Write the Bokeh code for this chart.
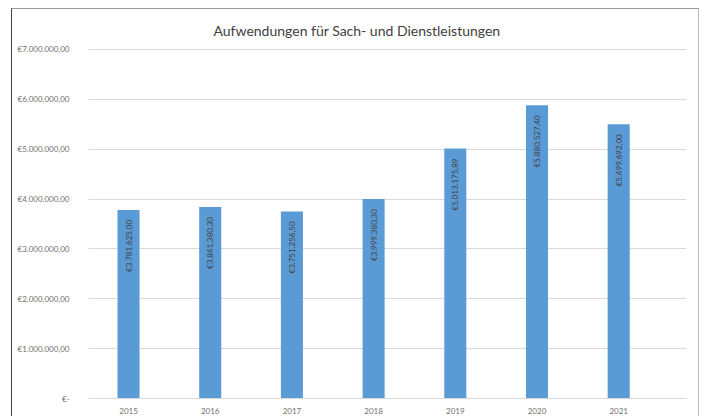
from bokeh.plotting import figure
from bokeh.models import Range1d, FixedTicker, ColumnDataSource, LabelSet
from bokeh.core.properties import value
from bokeh.embed import file_html
from bokeh.resources import INLINE

years = [2015, 2016, 2017, 2018, 2019, 2020, 2021]
values = [3781625.00, 3841380.30, 3751256.50, 3999380.30, 5013175.89, 5880527.40, 5499692.00]
value_labels = ["€3.781.625,00", "€3.841.380,30", "€3.751.256,50", "€3.999.380,30",
                "€5.013.175,89", "€5.880.527,40", "€5.499.692,00"]
y_ticks = [0, 1000000, 2000000, 3000000, 4000000, 5000000, 6000000, 7000000]
y_tick_labels = ["€-", "€1.000.000,00", "€2.000.000,00", "€3.000.000,00", "€4.000.000,00",
                 "€5.000.000,00", "€6.000.000,00", "€7.000.000,00"]
title = "Aufwendungen für Sach- und Dienstleistungen"

src = ColumnDataSource(dict(x=years, top=values, lab=value_labels))

p = figure(frame_width=598, frame_height=350, output_backend="svg", toolbar_location=None,
           x_range=Range1d(2014.51, 2021.83), y_range=Range1d(0, 7020000),
           min_border_left=76, min_border_right=12, min_border_top=35, min_border_bottom=15)
p.margin = (8, 0, 0, 11)
p.styles = {"border-left": "1px solid #444", "border-top": "1px solid #999", "border-right": "1px solid #bbb"}
p.title.text = title
p.title.align = "left"
p.title.offset = 125
p.title.standoff = 20
p.title.text_font = "Lato"
p.title.text_font_size = "14px"
p.title.text_font_style = "normal"
p.title.text_color = "#404040"
p.outline_line_color = None
p.background_fill_color = "white"
p.border_fill_color = "white"

p.vbar(x="x", top="top", width=0.27, source=src, fill_color="#5b9bd5", line_color=None)

labels = LabelSet(x="x", y="top", text="lab", source=src, angle=1.5708,
                  text_align="right", text_baseline="middle", y_offset=-10,
                  text_font_size="8px", text_color="#404040", text_font=value("Lato"))
p.add_layout(labels)

p.xaxis.ticker = FixedTicker(ticks=years)
p.xaxis.major_label_overrides = {y: str(y) for y in years}
p.yaxis.ticker = FixedTicker(ticks=y_ticks)
p.yaxis.major_label_overrides = {t: l for t, l in zip(y_ticks, y_tick_labels)}
for ax in (p.xaxis, p.yaxis):
    ax.major_tick_line_color = None
    ax.minor_tick_line_color = None
    ax.major_label_text_font = "Lato"
    ax.major_label_text_font_size = "8px"
    ax.major_label_text_color = "#6f6f6f"
p.xaxis.axis_line_color = "#d9d9d9"
p.yaxis.axis_line_color = None
p.yaxis.major_label_standoff = 13
p.xaxis.major_label_standoff = 3
p.xgrid.grid_line_color = None
p.ygrid.grid_line_color = "#d9d9d9"

open("out.html", "w").write(file_html(p, INLINE))
